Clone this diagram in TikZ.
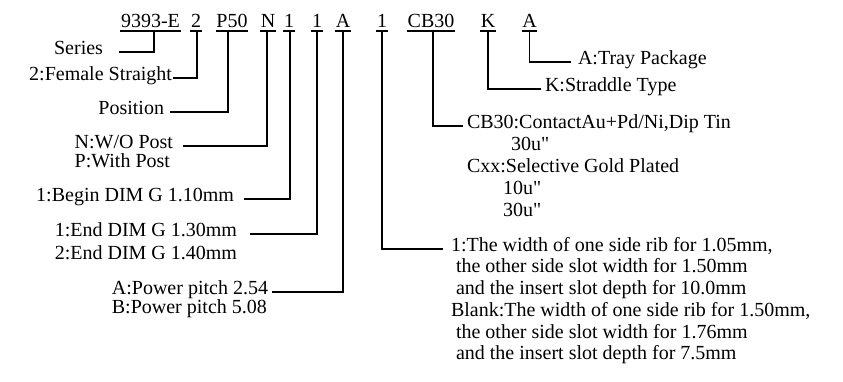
\documentclass[tikz,border=0pt]{standalone}
\usepackage{fontspec}
\setmainfont{Liberation Serif}[Ligatures=TeXOff]
\usepackage{tikz}
\usetikzlibrary{positioning}

% text lines stacked under the first one, baseline on the first line
\newcommand{\lines}[1]{\begin{tabular}[t]{@{}l@{}}#1\end{tabular}}

\begin{document}
\begin{tikzpicture}[x=1pt,y=-1pt,line width=1.5pt,
        code/.style={anchor=base,inner sep=0pt,font=\fontsize{20}{17}\selectfont},
        lbl/.style={inner ysep=0pt,outer sep=0pt,font=\fontsize{20}{17}\selectfont},
        lft/.style={lbl,anchor=mid east},
        rgt/.style={lbl,anchor=mid west}]
    \useasboundingbox (0,0) rectangle (843,382);

    % part number
    \node   [code]  (ser)   at (150.5,28)   {9393-E};
    \node   [code]  (fem)   at (196,28)     {2};
    \node   [code]  (pos)   at (232,28)     {P50};
    \node   [code]  (post)  at (268,28)     {N};
    \node   [code]  (bgn)   at (289,28)     {1};
    \node   [code]  (end)   at (317,28)     {1};
    \node   [code]  (pwr)   at (343,28)     {A};
    \node   [code]  (rib)   at (382,28)     {1};
    \node   [code]  (plt)   at (431,28)     {CB30};
    \node   [code]  (typ)   at (488,28)     {K};
    \node   [code]  (pkg)   at (529.5,28)   {A};

    \foreach \n in {ser,fem,pos,post,bgn,end,pwr,rib,plt,typ,pkg}
        \draw ([yshift=-3pt]\n.base west) -- ([yshift=-3pt]\n.base east);

    % left side
    \node   [lft,inner xsep=16pt]   (lSer)  at (119,52)     {Series};
    \node   [lft,inner xsep=1pt]    (lFem)  at (173,78)     {2:Female Straight};
    \node   [lft,inner xsep=6pt]    (lPos)  at (170,112)    {Position};
    \node   [lft,inner xsep=10pt]   (lPost) at (183,146)    {\lines{N:W/O Post\\P:With Post}};
    \node   [lft,inner xsep=10pt]   (lBgn)  at (244,199)    {1:Begin DIM G 1.10mm};
    \node   [lft,inner xsep=13pt]   (lEnd)  at (250,234)    {\lines{1:End DIM G 1.30mm\\[4pt]2:End DIM G 1.40mm}};
    \node   [lft,inner xsep=4pt]    (lPwr)  at (272,292)    {\lines{A:Power pitch 2.54\\B:Power pitch 5.08}};

    % right side
    \node   [rgt,inner xsep=7pt]    (lPkg)  at (571,62)     {A:Tray Package};
    \node   [rgt,inner xsep=4pt]    (lTyp)  at (541,89)     {K:Straddle Type};
    \node   [rgt,inner xsep=4pt]    (lPlt)  at (463,126)    {\lines{CB30:ContactAu+Pd/Ni,Dip Tin\\[3.5pt]
        \hspace*{44pt}30u"\\[3.5pt]Cxx:Selective Gold Plated\\[3.5pt]
        \hspace*{36pt}10u"\\[3.5pt]\hspace*{36pt}30u"}};
    \node   [rgt,inner xsep=8pt]    (lRib)  at (443,249)    {\lines{1:The width of one side rib for 1.05mm,\\[2.5pt]
        \hspace*{5pt}the other side slot width for 1.50mm\\[2.5pt]
        \hspace*{5pt}and the insert slot depth for 10.0mm\\[2.5pt]
        Blank:The width of one side rib for 1.50mm,\\[2.5pt]
        \hspace*{5pt}the other side slot width for 1.76mm\\[2.5pt]
        \hspace*{5pt}and the insert slot depth for 7.5mm}};

    % connectors
    \draw   ([xshift=3.5pt,yshift=-3pt]ser.base)    |- (lSer.mid east);
    \draw   ([xshift=1pt,yshift=-3pt]fem.base)      |- (lFem.mid east);
    \draw   ([xshift=-4pt,yshift=-3pt]pos.base)     |- (lPos.mid east);
    \draw   ([xshift=-1pt,yshift=-3pt]post.base)    |- (lPost.mid east);
    \draw   ([xshift=1pt,yshift=-3pt]bgn.base)      |- (lBgn.mid east);
    \draw   ([yshift=-3pt]end.base)                 |- (lEnd.mid east);
    \draw   ([yshift=-3pt]pwr.base)                 |- (lPwr.mid east);
    \draw   ([yshift=-3pt]rib.base)                 |- (lRib.mid west);
    \draw   ([xshift=2pt,yshift=-3pt]plt.base)      |- (lPlt.mid west);
    \draw   ([yshift=-3pt]typ.base)                 |- (lTyp.mid west);
    \draw   ([yshift=-3pt]pkg.base)                 |- (lPkg.mid west);
\end{tikzpicture}
\end{document}
